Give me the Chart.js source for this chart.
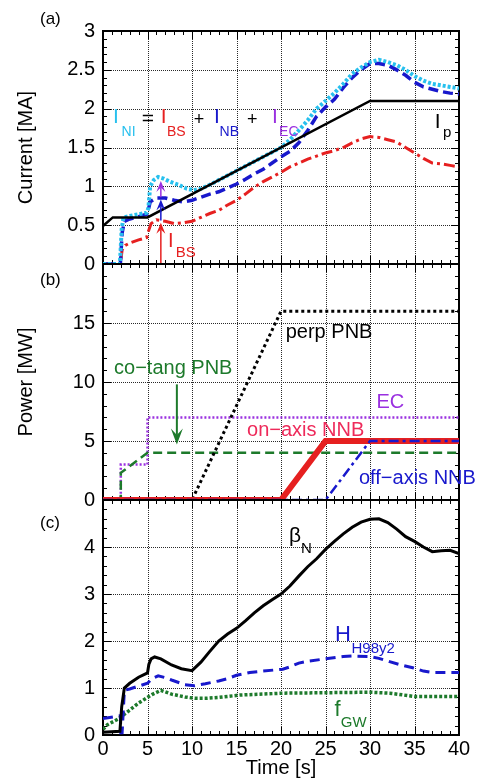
<!DOCTYPE html>
<html>
<head>
<meta charset="utf-8">
<script src="https://cdn.jsdelivr.net/npm/chart.js@4.4.1/dist/chart.umd.min.js"></script>
<style>
  body { margin: 0; background: #fff; }
  #wrap { position: relative; width: 489px; height: 778px; }
  canvas { position: absolute; left: 0; top: 0; }
</style>
</head>
<body>
<div id="wrap">
  <canvas id="chart-a" width="489" height="778"></canvas>
  <canvas id="chart-b" width="489" height="778"></canvas>
  <canvas id="chart-c" width="489" height="778"></canvas>
</div>
<script>
'use strict';
const FONT = '"Liberation Sans", Arial, sans-serif';

// (a) currents [MA]
const timeIp = [0, 1.1, 5, 30, 40];
const plasmaCurrent = [0.49, 0.6, 0.6, 2.1, 2.1];
const timeNI = [0, 1.9, 2.1, 2.3, 3, 4, 4.9, 5.1, 5.3, 5.7, 6.2, 6.8, 7.5, 8.5, 9.4, 10.2, 11, 12, 13, 14, 15, 16, 17, 18, 19, 20, 21, 22, 23, 24, 25, 26, 27, 28, 29, 30, 31, 32, 33, 34, 35, 36, 37, 38, 39, 40];
const currentNI = [0, 0, 0.45, 0.6, 0.62, 0.64, 0.66, 0.72, 1.0, 1.08, 1.12, 1.1, 1.06, 1.02, 0.97, 0.95, 0.97, 1.02, 1.08, 1.14, 1.2, 1.26, 1.32, 1.38, 1.44, 1.5, 1.6, 1.72, 1.85, 2.0, 2.1, 2.2, 2.32, 2.45, 2.53, 2.6, 2.63, 2.6, 2.56, 2.5, 2.42, 2.36, 2.32, 2.3, 2.28, 2.26];
const timeNB = [0, 1.95, 2.15, 2.4, 3, 4, 4.9, 5.1, 5.3, 6, 7, 8, 9, 10, 11, 12, 13, 14, 15, 16, 17, 18, 19, 20, 21, 22, 23, 24, 25, 26, 27, 28, 29, 30, 31, 32, 33, 34, 35, 36, 37, 38, 39, 40];
const currentNB = [0, 0, 0.4, 0.55, 0.58, 0.61, 0.64, 0.7, 0.8, 0.85, 0.85, 0.82, 0.8, 0.82, 0.86, 0.9, 0.93, 0.98, 1.03, 1.09, 1.16, 1.22, 1.3, 1.38, 1.45, 1.56, 1.72, 1.9, 2.02, 2.12, 2.27, 2.4, 2.5, 2.58, 2.58, 2.56, 2.5, 2.43, 2.34, 2.28, 2.25, 2.22, 2.2, 2.19];
const timeBS = [0, 1.95, 2.15, 2.5, 3, 4, 4.9, 5.1, 5.4, 6, 7, 8, 9, 10, 11, 12, 13, 14, 15, 16, 17, 18, 19, 20, 21, 22, 23, 24, 25, 26, 27, 28, 29, 30, 31, 32, 33, 34, 35, 36, 37, 38, 39, 40];
const currentBS = [0, 0, 0.18, 0.24, 0.27, 0.31, 0.34, 0.42, 0.52, 0.57, 0.55, 0.52, 0.53, 0.55, 0.6, 0.65, 0.69, 0.76, 0.82, 0.9, 0.99, 1.06, 1.12, 1.18, 1.25, 1.3, 1.35, 1.39, 1.43, 1.46, 1.5, 1.56, 1.61, 1.64, 1.63, 1.6, 1.57, 1.5, 1.43, 1.36, 1.3, 1.29, 1.27, 1.25];

// (b) heating power [MW]
const timePerp = [0, 10, 20, 40];
const powerPerp = [0, 0, 16, 16];
const timeEC = [0, 2, 2, 5, 5, 40];
const powerEC = [0, 0, 3, 3, 7, 7];
const timeCoTang = [0, 2, 2, 5, 40];
const powerCoTang = [0, 0, 2.3, 4, 4];
const timeOnAxis = [0, 20, 25, 40];
const powerOnAxis = [0, 0, 5, 5];
const timeOffAxis = [0, 25, 30, 40];
const powerOffAxis = [0, 0, 5, 5];

// (c) beta_N, H98y2, fGW
const timeBeta = [0, 1.9, 2.1, 2.4, 3, 4, 5, 5.15, 5.4, 5.8, 6.5, 7.7, 8.8, 10, 11, 12, 13, 14, 15, 16, 17, 18, 19, 20, 21, 22, 23, 24, 25, 26, 27, 28, 29, 30, 31, 32, 33, 34, 35, 36, 37, 38, 39, 40];
const betaN = [0.06, 0.08, 0.6, 1.0, 1.1, 1.23, 1.32, 1.5, 1.62, 1.66, 1.62, 1.49, 1.41, 1.37, 1.55, 1.78, 2.0, 2.15, 2.27, 2.43, 2.6, 2.75, 2.88, 3.0, 3.17, 3.38, 3.58, 3.75, 3.95, 4.12, 4.28, 4.42, 4.53, 4.59, 4.6, 4.52, 4.38, 4.22, 4.12, 4.0, 3.9, 3.92, 3.93, 3.86];
const timeH98 = [0, 1.95, 2.0, 2.15, 2.4, 3, 4, 5, 5.5, 6.2, 7, 7.7, 9.2, 10.3, 11.5, 13, 14, 15, 16.5, 18, 20.2, 21, 22, 23, 25, 27, 28, 30, 31, 32.2, 33.5, 34.8, 36, 37, 38, 40];
const h98y2 = [0.35, 0.41, 0.05, 0.05, 0.95, 0.98, 1.04, 1.1, 1.2, 1.26, 1.22, 1.17, 1.07, 1.05, 1.09, 1.15, 1.2, 1.27, 1.33, 1.36, 1.4, 1.45, 1.53, 1.57, 1.62, 1.67, 1.68, 1.67, 1.63, 1.56, 1.49, 1.43, 1.36, 1.33, 1.33, 1.33];
const timeGW = [0, 0.5, 1.7, 2.1, 2.8, 4, 5.5, 6.5, 7.7, 9.2, 10.3, 11.5, 13, 15.4, 20.2, 25, 30, 32.2, 35, 40];
const fGW = [0.12, 0.22, 0.34, 0.4, 0.5, 0.68, 0.86, 0.95, 0.87, 0.81, 0.78, 0.78, 0.8, 0.85, 0.89, 0.9, 0.91, 0.89, 0.82, 0.82];

const CYAN = '#27c0ee', BLUE = '#1818cc', RED = '#e62020', PURPLE = '#9a30e0', GREEN = '#1d7a2b';
const GRID = '#2a2a2a';

function points(times, values) {
  return times.map((t, i) => ({ x: t, y: values[i] }));
}

function line(label, times, values, color, width, dash) {
  return {
    label: label,
    data: points(times, values),
    borderColor: color,
    borderWidth: width,
    borderDash: dash || [],
    borderCapStyle: 'butt',
    pointRadius: 0,
    tension: 0,
    fill: false
  };
}

function drawArrow(ctx, x, y0, y1, color, width, headLen, headW) {
  const dir = y0 > y1 ? 1 : -1;
  ctx.save();
  ctx.strokeStyle = color;
  ctx.fillStyle = color;
  ctx.lineWidth = width;
  ctx.beginPath();
  ctx.moveTo(x, y0);
  ctx.lineTo(x, y1 + dir * headLen * 0.6);
  ctx.stroke();
  ctx.beginPath();
  ctx.moveTo(x, y1);
  ctx.lineTo(x - headW / 2, y1 + dir * headLen);
  ctx.lineTo(x, y1 + dir * headLen * 0.6);
  ctx.lineTo(x + headW / 2, y1 + dir * headLen);
  ctx.closePath();
  ctx.fill();
  ctx.restore();
}

function framePlugin(p) {
  return {
    id: 'frame' + p.name,
    afterDraw(chart) {
      // dotted grid at the major ticks, slipped under everything already drawn
      const { ctx, chartArea: a, scales: { x, y } } = chart;
      ctx.save();
      ctx.globalCompositeOperation = 'destination-over';
      ctx.fillStyle = GRID;
      for (let t = 5; t < 40; t += 5) {
        const px = Math.round(x.getPixelForValue(t));
        for (let py = Math.round(a.top); py < a.bottom - 1; py += 2) ctx.fillRect(px, py, 1, 1);
      }
      for (let v = p.yMin + p.yStep; v < p.yMax - 1e-9; v += p.yStep) {
        const py = Math.round(y.getPixelForValue(v));
        for (let px = Math.round(a.left); px < a.right - 1; px += 2) ctx.fillRect(px, py, 1, 1);
      }
      ctx.restore();
    },
    beforeDatasetsDraw(chart) {
      const { ctx, chartArea: a, scales: { x, y } } = chart;
      ctx.save();
      // inward major and minor ticks on all four sides
      ctx.strokeStyle = '#000';
      ctx.lineWidth = 1;
      ctx.beginPath();
      for (let t = 0; t <= 40; t++) {
        const px = Math.round(x.getPixelForValue(t)) + 0.5;
        const len = t % 5 === 0 ? 8 : 4;
        ctx.moveTo(px, a.bottom); ctx.lineTo(px, a.bottom - len);
        ctx.moveTo(px, a.top); ctx.lineTo(px, a.top + len);
      }
      const n = Math.round((p.yMax - p.yMin) / p.yMinor);
      for (let i = 0; i <= n; i++) {
        const py = Math.round(y.getPixelForValue(p.yMin + i * p.yMinor)) + 0.5;
        const len = i % 5 === 0 ? 8 : 4;
        ctx.moveTo(a.left, py); ctx.lineTo(a.left + len, py);
        ctx.moveTo(a.right, py); ctx.lineTo(a.right - len, py);
      }
      ctx.stroke();
      ctx.lineWidth = 2;
      ctx.strokeRect(a.left, a.top, a.right - a.left, a.bottom - a.top);
      ctx.restore();
    },
    afterDatasetsDraw(chart) {
      const { ctx, scales: { x, y } } = chart;
      ctx.save();
      ctx.textBaseline = 'alphabetic';
      ctx.textAlign = 'left';
      p.texts.forEach(s => {
        ctx.font = s.size + 'px ' + FONT;
        ctx.fillStyle = s.color;
        ctx.fillText(s.text, x.getPixelForValue(s.t), y.getPixelForValue(s.v));
      });
      p.arrows.forEach(ar => {
        drawArrow(ctx, x.getPixelForValue(ar.t), y.getPixelForValue(ar.from), y.getPixelForValue(ar.to),
          ar.color, ar.width, ar.headLen, ar.headW);
      });
      ctx.font = '17px ' + FONT;
      ctx.fillStyle = '#000';
      ctx.fillText(p.panel, p.panelX, p.panelY);
      ctx.restore();
    }
  };
}

function buildChart(canvasId, p) {
  return new Chart(document.getElementById(canvasId), {
    type: 'line',
    data: { datasets: p.datasets },
    options: {
      responsive: false,
      animation: false,
      events: [],
      layout: { padding: { left: 0, right: 30, top: p.top, bottom: p.bottom } },
      plugins: { legend: { display: false }, tooltip: { enabled: false } },
      scales: {
        x: {
          type: 'linear', min: 0, max: 40,
          afterFit: s => { s.height = p.xHeight; },
          ticks: { display: p.showX, stepSize: 5, padding: 2, color: '#000', font: { family: FONT, size: 20 } },
          grid: { display: false, drawTicks: false },
          border: { display: false },
          title: { display: p.showX, text: 'Time [s]', color: '#000', padding: 0, font: { family: FONT, size: 20, lineHeight: 1 } }
        },
        y: {
          type: 'linear', min: p.yMin, max: p.yMax,
          afterFit: s => { s.width = 103; },
          ticks: {
            stepSize: p.yStep, padding: 8, color: '#000', font: { family: FONT, size: 20 },
            callback: v => (p.hideTop && v >= p.yMax) ? '' : String(v)
          },
          grid: { display: false, drawTicks: false },
          border: { display: false },
          title: { display: !!p.yTitle, text: p.yTitle || '', color: '#000', padding: { top: 14, bottom: 0 }, font: { family: FONT, size: 20 } }
        }
      }
    },
    plugins: [framePlugin(p)]
  });
}

buildChart('chart-a', {
  name: 'a', top: 31, bottom: 514, xHeight: 0, showX: false,
  yMin: 0, yMax: 3, yStep: 0.5, yMinor: 0.1, hideTop: false, yTitle: 'Current [MA]',
  panel: '(a)', panelX: 40, panelY: 24,
  datasets: [
    line('Ip', timeIp, plasmaCurrent, '#000', 2.5),
    line('I_NI', timeNI, currentNI, CYAN, 4, [3, 2]),
    line('I_NB', timeNB, currentNB, BLUE, 3.5, [10, 5]),
    line('I_BS', timeBS, currentBS, RED, 3, [11, 4, 3, 4])
  ],
  texts: [
    { text: 'I', t: 1.12, v: 1.81, size: 21, color: CYAN },
    { text: 'NI', t: 2.09, v: 1.65, size: 14, color: CYAN },
    { text: '=', t: 4.36, v: 1.79, size: 21, color: '#000' },
    { text: 'I', t: 6.5, v: 1.81, size: 21, color: RED },
    { text: 'BS', t: 7.19, v: 1.65, size: 14, color: RED },
    { text: '+', t: 10.2, v: 1.79, size: 18, color: '#000' },
    { text: 'I', t: 12.47, v: 1.81, size: 21, color: BLUE },
    { text: 'NB', t: 13.1, v: 1.65, size: 14, color: BLUE },
    { text: '+', t: 16.18, v: 1.79, size: 18, color: '#000' },
    { text: 'I', t: 18.99, v: 1.81, size: 21, color: PURPLE },
    { text: 'EC', t: 19.78, v: 1.65, size: 14, color: PURPLE },
    { text: 'I', t: 37.27, v: 1.75, size: 21, color: '#000' },
    { text: 'p', t: 38.2, v: 1.63, size: 15, color: '#000' },
    { text: 'I', t: 7.3, v: 0.22, size: 20, color: RED },
    { text: 'BS', t: 8.17, v: 0.09, size: 15, color: RED }
  ],
  arrows: [
    { t: 6.5, from: 0, to: 0.53, color: RED, width: 1.5, headLen: 11, headW: 9 },
    { t: 6.5, from: 0.56, to: 0.83, color: BLUE, width: 1.5, headLen: 11, headW: 9 },
    { t: 6.5, from: 0.86, to: 1.07, color: PURPLE, width: 1.5, headLen: 11, headW: 9 }
  ]
});

buildChart('chart-b', {
  name: 'b', top: 264, bottom: 278, xHeight: 0, showX: false,
  yMin: 0, yMax: 20, yStep: 5, yMinor: 1, hideTop: true, yTitle: 'Power [MW]',
  panel: '(b)', panelX: 40, panelY: 285,
  datasets: [
    line('off-axis NNB', timeOffAxis, powerOffAxis, BLUE, 2.5, [10, 4, 3, 4]),
    line('on-axis NNB', timeOnAxis, powerOnAxis, RED, 6),
    line('perp PNB', timePerp, powerPerp, '#000', 3, [3, 3]),
    line('co-tang PNB', timeCoTang, powerCoTang, GREEN, 2.5, [9, 5]),
    line('EC', timeEC, powerEC, PURPLE, 2.5, [2, 2])
  ],
  texts: [
    { text: 'perp PNB', t: 20.53, v: 13.76, size: 20, color: '#000' },
    { text: 'co\u2212tang PNB', t: 1.24, v: 10.65, size: 20, color: GREEN },
    { text: 'EC', t: 30.72, v: 7.81, size: 20, color: PURPLE },
    { text: 'on\u2212axis NNB', t: 16.18, v: 5.39, size: 20, color: '#ee2a5a' },
    { text: 'off\u2212axis NNB', t: 28.76, v: 1.36, size: 20, color: BLUE }
  ],
  arrows: [
    { t: 8.3, from: 9.8, to: 4.7, color: GREEN, width: 2, headLen: 16, headW: 12 }
  ]
});

buildChart('chart-c', {
  name: 'c', top: 500, bottom: 0, xHeight: 43, showX: true,
  yMin: 0, yMax: 5, yStep: 1, yMinor: 0.2, hideTop: true, yTitle: '',
  panel: '(c)', panelX: 40, panelY: 528,
  datasets: [
    line('betaN', timeBeta, betaN, '#000', 3),
    line('H98y2', timeH98, h98y2, BLUE, 3, [10, 6]),
    line('fGW', timeGW, fGW, GREEN, 3.5, [3, 2])
  ],
  texts: [
    { text: '\u03b2', t: 20.9, v: 4.10, size: 21, color: '#000' },
    { text: 'N', t: 22.25, v: 3.87, size: 15, color: '#000' },
    { text: 'H', t: 26.07, v: 1.99, size: 22, color: BLUE },
    { text: 'H98y2', t: 27.92, v: 1.75, size: 15, color: BLUE },
    { text: 'f', t: 26.01, v: 0.395, size: 22, color: GREEN },
    { text: 'GW', t: 26.71, v: 0.18, size: 15, color: GREEN }
  ],
  arrows: []
});
</script>
</body>
</html>
